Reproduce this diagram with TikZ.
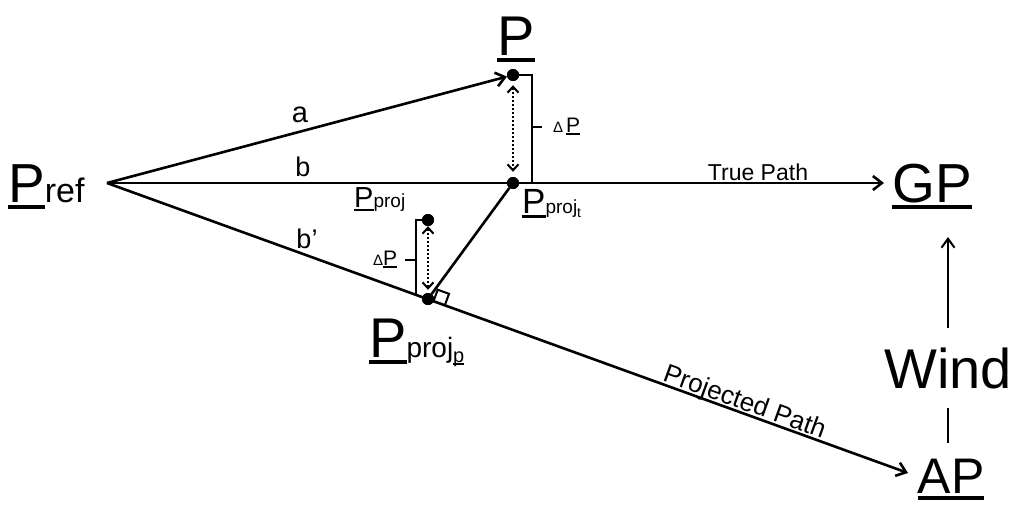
\documentclass[tikz,border=0pt]{standalone}
\usepackage{fontspec}
\setmainfont{Liberation Sans}
\usetikzlibrary{arrows.meta}
\newcommand\ULn[1]{\setbox0=\hbox{#1}\rlap{\rule[-0.13em]{\wd0}{0.07em}}\box0}
\newcommand\fs[1]{\fontsize{#1}{#1}\selectfont}
\begin{document}
\begin{tikzpicture}[x=1pt,y=-1pt,
  txt/.style={inner sep=0pt, anchor=base},
  txtw/.style={inner sep=0pt, anchor=base west},
  dotn/.style={circle, fill=black, inner sep=0pt, minimum size=12pt},
  main/.style={line width=2.6pt},
  arr/.style={main, -{Straight Barb[length=9pt,width=14pt]}},
  dotarr/.style={line width=2pt, dash pattern=on 2pt off 2pt,
     {Straight Barb[length=6pt,width=11pt]}-{Straight Barb[length=6pt,width=11pt]}},
  brk/.style={line width=2.2pt}]
\useasboundingbox (0,0) rectangle (1016,509);

% key points
\coordinate (O) at (107,183);
\coordinate (GPin) at (884,183);
\coordinate (APin) at (908,473);
\node[dotn] (Pd) at (513,75) {};
\node[dotn] (Ptd) at (513,183) {};
\node[dotn] (Ppd) at (428,299) {};
\node[dotn] (Pjd) at (428,220) {};

% main paths
\draw[arr] (O) -- (Pd);
\draw[arr] (O) -- (GPin);
\draw[arr] (O) -- (APin);
\draw[main] (Ptd) -- (Ppd);

% dotted double arrows
\draw[dotarr, shorten <=4pt, shorten >=5pt] (Pd) -- (Ptd);
\draw[dotarr, shorten >=3pt] (Pjd) -- (Ppd);

% brackets
\coordinate (b1a) at (532,75);
\coordinate (b1b) at (532,183);
\coordinate (b1m) at (532,127);
\coordinate (b1t) at (542,127);
\draw[brk] (Pd.east) -- (b1a) -- (b1b);
\draw[brk] (b1m) -- (b1t);
\coordinate (b2a) at (416,220);
\coordinate (b2b) at (416,296);
\coordinate (b2m) at (416,260);
\coordinate (b2t) at (405,260);
\draw[brk] (Pjd.west) -- (b2a) -- (b2b);
\draw[brk] (b2m) -- (b2t);

% right angle marker
\draw[line width=2pt] (433.6,301.0) -- (437.7,289.7) -- (449,293.8) -- (444.9,305.1);

% redraw dots on top
\fill (Pd) circle (6pt);
\fill (Ptd) circle (6pt);
\fill (Ppd) circle (6pt);
\fill (Pjd) circle (6pt);

% wind
\coordinate (Wa) at (948,328);
\coordinate (Wb) at (948,237);
\coordinate (Wc) at (948,408);
\coordinate (Wd) at (948,443);
\draw[line width=2pt, -{Straight Barb[length=9pt,width=13pt]}] (Wa) -- (Wb);
\draw[line width=2pt] (Wc) -- (Wd);

% labels
\node[txtw] (Pref) at (8,202) {\fs{55}\ULn{P}\fs{34}ref};
\node[txt] (Plab) at (516,55) {\fs{56}\ULn{P}};
\node[txt] (la) at (300,122) {\fs{29}a};
\node[txt] (lb) at (303,176) {\fs{27}b};
\node[txt] (lbp) at (307,248) {\fs{27}b’};
\node[txtw] (Pproj) at (354,207) {\fs{29}\ULn{P}\fs{19}proj};
\node[txtw] (dP1) at (553,132) {\fs{15}Δ\hspace{3pt}\fs{21}\ULn{P}};
\node[txtw] (dP2) at (373,265) {\fs{15}Δ\fs{21}\ULn{P}};
\node[txtw] (Ptlab) at (522,213) {\fs{35}\ULn{P}\fs{19}proj\raisebox{-4pt}{\fs{14}t}};
\node[txtw] (Pplab) at (369,357) {\fs{56}\ULn{P}\fs{28}proj\raisebox{-5pt}{\fs{20}\ULn{p}}};
\node[txt] (GP) at (932,202) {\fs{55}\ULn{GP}};
\node[txt] (Wind) at (948,388) {\fs{56}Wind};
\node[txt] (AP) at (951,493) {\fs{50}\ULn{AP}};
\node[txt] (tp) at (758,180) {\fs{23}True Path};
\node[txt, rotate=-19.9] (pp) at (742,409.5) {\fs{26}Projected Path};
\end{tikzpicture}
\end{document}
